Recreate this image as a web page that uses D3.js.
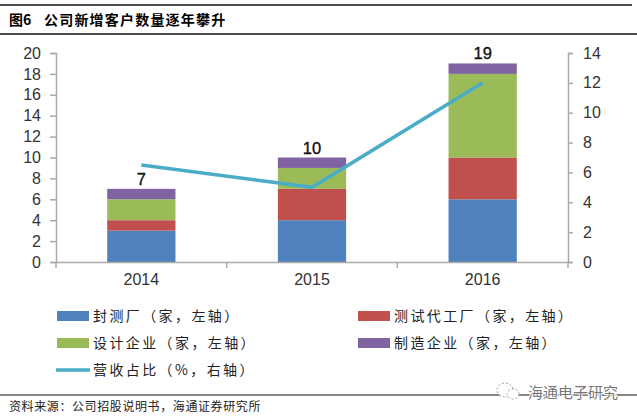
<!DOCTYPE html>
<html>
<head>
<meta charset="utf-8">
<script src="https://cdn.jsdelivr.net/npm/d3@7"></script>
<style>
body { margin: 0; background: #fff; }
text { font-family: "Liberation Sans", sans-serif; }
.cjk { font-family: "Noto Sans CJK SC", sans-serif; }
</style>
</head>
<body>
<svg id="svg" width="637" height="420"></svg>
<script>
var years = ["2014", "2015", "2016"];
var fengce = [3, 4, 6];
var ceshi = [1, 3, 4];
var sheji = [2, 2, 8];
var zhizao = [1, 1, 1];
var totals = [7, 10, 19];
var yingshou = [6.5, 5, 12];
var leftTicks = d3.range(0, 21, 2);
var rightTicks = d3.range(0, 15, 2);
var legendLabels = ["封测厂（家，左轴）", "测试代工厂（家，左轴）", "设计企业（家，左轴）", "制造企业（家，左轴）", "营收占比（%，右轴）"];
var colours = ["#4f81bd", "#c0504d", "#9bbb59", "#8064a2"];
var lineColour = "#4bacc6";

var svg = d3.select("svg");

var x = d3.scaleBand().domain(years).range([56, 568]).paddingInner(0.6).paddingOuter(0.3);
var yl = d3.scaleLinear().domain([0, 20]).range([262, 53]);
var yr = d3.scaleLinear().domain([0, 14]).range([262, 53]);

// header + footer rules
[[5, 1.5, 632], [34, 1.5, 637], [395, 1, 637]].forEach(r => {
  svg.append("line").attr("x1", 0).attr("x2", r[2]).attr("y1", r[0]).attr("y2", r[0])
    .attr("stroke", "#111").attr("stroke-width", r[1]);
});

svg.append("text").attr("class", "cjk").attr("x", 9).attr("y", 25)
  .attr("font-size", 14).attr("font-weight", 700).text("图6");
svg.append("text").attr("class", "cjk").attr("x", 44).attr("y", 25)
  .attr("font-size", 14).attr("font-weight", 700).attr("letter-spacing", 1.2).text("公司新增客户数量逐年攀升");

// bars
var rows = years.map((y, i) => ({ year: y, 0: fengce[i], 1: ceshi[i], 2: sheji[i], 3: zhizao[i] }));
var stack = d3.stack().keys([0, 1, 2, 3])(rows);
stack.forEach((s, k) => {
  svg.append("g").selectAll("rect").data(s).join("rect")
    .attr("x", d => x(d.data.year))
    .attr("width", x.bandwidth())
    .attr("y", d => yl(d[1]))
    .attr("height", d => yl(d[0]) - yl(d[1]))
    .attr("fill", colours[k]);
});

// axes
function styleAxis(g) {
  g.selectAll("path,line").attr("stroke", "#aaa").attr("stroke-width", 1.5);
  g.selectAll("text").attr("font-family", "Liberation Sans").attr("font-size", 16).attr("fill", "#333");
}
svg.append("g").attr("transform", "translate(56,0)")
  .call(d3.axisLeft(yl).tickValues(leftTicks).tickSize(6).tickSizeOuter(6).tickPadding(9))
  .call(styleAxis);
svg.append("g").attr("transform", "translate(568,0)")
  .call(d3.axisRight(yr).tickValues(rightTicks).tickSize(5).tickSizeOuter(5).tickPadding(10))
  .call(styleAxis);
var bottom = svg.append("g").attr("transform", "translate(0,262)")
  .call(d3.axisBottom(x).tickValues(years).tickSize(0).tickPadding(12));
// category axis ticks sit between the groups, not under them
bottom.selectAll(".cat").data(d3.range(years.length + 1)).join("line")
  .attr("class", "cat")
  .attr("x1", i => x.range()[0] + i * x.step())
  .attr("x2", i => x.range()[0] + i * x.step())
  .attr("y1", 0).attr("y2", 6);
bottom.call(styleAxis);

// line
var line = d3.line().x((d, i) => x(years[i]) + x.bandwidth() / 2).y(d => yr(d));
svg.append("path").datum(yingshou).attr("d", line)
  .attr("fill", "none").attr("stroke", lineColour).attr("stroke-width", 3.5);

// totals
svg.append("g").selectAll("text").data(totals).join("text")
  .attr("x", (d, i) => x(years[i]) + x.bandwidth() / 2)
  .attr("y", d => yl(d) - 4)
  .attr("text-anchor", "middle")
  .attr("font-size", 16.5).attr("fill", "#111").attr("stroke", "#111").attr("stroke-width", 0.35)
  .text(d => d);

// legend
var legendPos = [[57, 316], [358, 316], [57, 343], [358, 343], [57, 370]];
legendLabels.forEach((t, i) => {
  var p = legendPos[i];
  if (i < 4) {
    svg.append("rect").attr("x", p[0]).attr("y", p[1] - 5).attr("width", 32).attr("height", 10).attr("fill", colours[i]);
  } else {
    svg.append("line").attr("x1", p[0] - 1).attr("x2", p[0] + 33).attr("y1", p[1]).attr("y2", p[1])
      .attr("stroke", lineColour).attr("stroke-width", 3.5);
  }
  svg.append("text").attr("class", "cjk").attr("x", p[0] + 36).attr("y", p[1] + 5)
    .attr("font-size", 14).attr("letter-spacing", 2.4).attr("fill", "#222").text(t);
});

// source + watermark
svg.append("text").attr("class", "cjk").attr("x", 9).attr("y", 411)
  .attr("font-size", 12).attr("letter-spacing", 0.6).attr("fill", "#222").text("资料来源：公司招股说明书，海通证券研究所");
svg.append("ellipse").attr("cx", 505).attr("cy", 390).attr("rx", 8).attr("ry", 7)
  .attr("fill", "#fff").attr("stroke", "#999").attr("stroke-dasharray", "2 2");
svg.append("ellipse").attr("cx", 513).attr("cy", 394).attr("rx", 6).attr("ry", 5)
  .attr("fill", "#fff").attr("stroke", "#999").attr("stroke-dasharray", "2 2");
svg.append("text").attr("class", "cjk").attr("x", 528).attr("y", 398)
  .attr("font-size", 15).attr("fill", "#777")
  .attr("stroke", "#fff").attr("stroke-width", 2).attr("paint-order", "stroke")
  .text("海通电子研究");
</script>
</body>
</html>
